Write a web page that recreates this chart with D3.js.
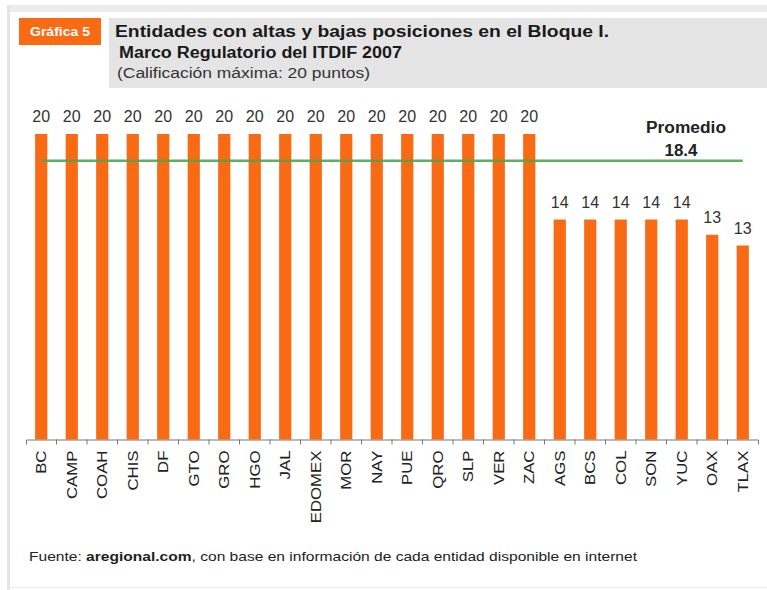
<!DOCTYPE html>
<meta charset="utf-8">
<script src="https://cdnjs.cloudflare.com/ajax/libs/d3/7.8.5/d3.min.js"></script>
<style>
body { margin: 0; background: #fff; }
text { font-family: "Liberation Sans", Arial, sans-serif; }
.axis path, .axis line { stroke: #777; }
</style>
<body>
<script>

// data
var entidades = ["BC", "CAMP", "COAH", "CHIS", "DF", "GTO", "GRO", "HGO", "JAL", "EDOMEX",
                 "MOR", "NAY", "PUE", "QRO", "SLP", "VER", "ZAC", "AGS", "BCS", "COL",
                 "SON", "YUC", "OAX", "TLAX"];
var calificacion = [20, 20, 20, 20, 20, 20, 20, 20, 20, 20,
                    20, 20, 20, 20, 20, 20, 20, 14.4, 14.4, 14.4,
                    14.4, 14.4, 13.4, 12.7];
var promedioLabel = ["Promedio", "18.4"];
var maxCalif = 20;

var width = 767,
    height = 590;

var orange = "#f96a14";

var svg = d3.select("body").append("svg")
    .attr("width", width)
    .attr("height", height);

// frame
svg.append("rect").attr("x", 7).attr("y", 5).attr("width", width - 7).attr("height", 7).attr("fill", "#ececec");
svg.append("rect").attr("x", 7).attr("y", 5).attr("width", 3).attr("height", height - 5).attr("fill", "#e4e4e4");
svg.append("rect").attr("x", 7).attr("y", 587).attr("width", width - 7).attr("height", 1).attr("fill", "#ececec");

// header
svg.append("rect").attr("x", 19).attr("y", 18).attr("width", 82).attr("height", 27).attr("fill", orange);
svg.append("text")
    .attr("x", 60).attr("y", 36)
    .attr("text-anchor", "middle")
    .attr("fill", "#fff")
    .style("font-size", "13px").style("font-weight", "bold")
    .attr("textLength", 60).attr("lengthAdjust", "spacingAndGlyphs")
    .text("Gráfica 5");

svg.append("rect").attr("x", 109).attr("y", 18).attr("width", width - 109).attr("height", 70).attr("fill", "#e4e4e4");
svg.append("text")
    .attr("x", 115).attr("y", 37)
    .attr("fill", "#1a1a1a")
    .style("font-size", "16px").style("font-weight", "bold")
    .attr("textLength", 494).attr("lengthAdjust", "spacingAndGlyphs")
    .text("Entidades con altas y bajas posiciones en el Bloque I.");
svg.append("text")
    .attr("x", 119).attr("y", 58)
    .attr("fill", "#1a1a1a")
    .style("font-size", "16px").style("font-weight", "bold")
    .attr("textLength", 283).attr("lengthAdjust", "spacingAndGlyphs")
    .text("Marco Regulatorio del ITDIF 2007");
svg.append("text")
    .attr("x", 117).attr("y", 78)
    .attr("fill", "#333")
    .style("font-size", "14px")
    .attr("textLength", 253).attr("lengthAdjust", "spacingAndGlyphs")
    .text("(Calificación máxima: 20 puntos)");

// chart
var x = d3.scaleBand()
    .domain(entidades)
    .range([26, 758])
    .paddingInner(0.6)
    .paddingOuter(0.3);

var y = d3.scaleLinear()
    .domain([0, maxCalif])
    .range([439.5, 134]);

svg.selectAll(".bar")
    .data(entidades)
  .enter().append("rect")
    .attr("class", "bar")
    .attr("x", function(d) { return x(d); })
    .attr("width", x.bandwidth())
    .attr("y", function(d, i) { return y(calificacion[i]); })
    .attr("height", function(d, i) { return y(0) - y(calificacion[i]); })
    .attr("fill", orange);

svg.selectAll(".val")
    .data(entidades)
  .enter().append("text")
    .attr("class", "val")
    .attr("x", function(d) { return x(d) + x.bandwidth() / 2; })
    .attr("y", function(d, i) { return y(calificacion[i]) - 12; })
    .attr("text-anchor", "middle")
    .attr("fill", "#333")
    .style("font-size", "16px")
    .text(function(d, i) { return d3.format(".0f")(calificacion[i]); });

// average line
var prom = d3.mean(calificacion);
svg.append("line")
    .attr("x1", x(entidades[0]) + x.bandwidth() / 2)
    .attr("x2", x(entidades[entidades.length - 1]) + x.bandwidth() / 2)
    .attr("y1", y(prom)).attr("y2", y(prom))
    .attr("stroke", "#4fa54f")
    .attr("stroke-opacity", 0.9)
    .attr("stroke-width", 2.5);

svg.selectAll(".prom")
    .data(promedioLabel)
  .enter().append("text")
    .attr("class", "prom")
    .attr("x", function(d, i) { return i ? 681 : 686; })
    .attr("y", function(d, i) { return 133 + i * 23; })
    .attr("text-anchor", "middle")
    .attr("fill", "#222")
    .style("font-size", "16px").style("font-weight", "bold")
    .attr("textLength", function(d, i) { return i ? 33 : 80; })
    .attr("lengthAdjust", "spacingAndGlyphs")
    .text(function(d) { return d; });

// x axis
var axis = svg.append("g")
    .attr("class", "axis")
    .attr("transform", "translate(0," + y(0) + ")")
    .call(d3.axisBottom(x).tickSize(0).tickSizeOuter(5).tickPadding(0));

axis.selectAll(".tick text")
    .attr("fill", "#222")
    .style("font-size", "14px")
    .attr("text-anchor", "end")
    .attr("dy", null)
    .attr("transform", "translate(5,11) rotate(-90) scale(1.2,1)");

// boundary ticks between categories
axis.selectAll(".sep")
    .data(entidades.slice(1))
  .enter().append("line")
    .attr("class", "sep")
    .attr("x1", function(d) { return x(d) - x.step() * x.paddingInner() / 2; })
    .attr("x2", function(d) { return x(d) - x.step() * x.paddingInner() / 2; })
    .attr("y1", 0).attr("y2", 5);

// source
svg.append("text")
    .attr("x", 29).attr("y", 561)
    .attr("fill", "#222")
    .style("font-size", "13px")
    .attr("textLength", 608).attr("lengthAdjust", "spacingAndGlyphs")
    .html('Fuente: <tspan font-weight="bold">aregional.com</tspan>, con base en información de cada entidad disponible en internet');

</script>
